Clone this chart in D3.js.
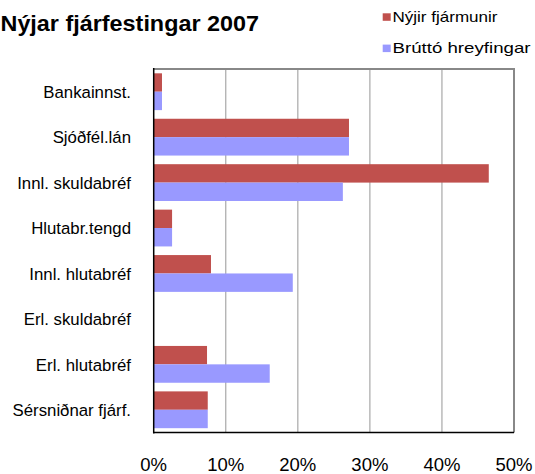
<!DOCTYPE html>
<html><head><meta charset="utf-8">
<script src="https://cdn.jsdelivr.net/npm/d3@7"></script>
<style>body{margin:0;background:#fff}svg{display:block;font-family:"Liberation Sans",Arial,sans-serif}</style>
</head><body>
<svg id="c" width="535" height="474"></svg>
<script>
const categories = ["Bankainnst.","Sjóðfél.lán","Innl. skuldabréf","Hlutabr.tengd","Innl. hlutabréf","Erl. skuldabréf","Erl. hlutabréf","Sérsniðnar fjárf."];
const seriesNames = ["Nýjir fjármunir","Brúttó hreyfingar"];
const nyjir = [1.15, 27.1, 46.5, 2.55, 7.95, 0, 7.4, 7.5];
const brutto = [1.15, 27.1, 26.25, 2.55, 19.3, 0, 16.1, 7.5];
const tickValues = [0, 10, 20, 30, 40, 50];
const colors = ["#C0504D", "#9999FF"];

const svg = d3.select("#c");
const L = 153.7, R = 514, T = 69, B = 432.5;
const x = d3.scaleLinear().domain([0, 50]).range([L, R]);
const y = d3.scaleBand().domain(categories).range([T, B]).paddingInner(0.19).paddingOuter(0.095);
const ys = d3.scaleBand().domain([0, 1]).range([0, y.bandwidth()]);

// gridlines
svg.append("g").selectAll("line").data(tickValues.slice(1, -1)).join("line")
  .attr("x1", d => x(d)).attr("x2", d => x(d)).attr("y1", T).attr("y2", B)
  .attr("stroke", "#a8a8a8").attr("stroke-width", 1.2);

// plot frame top/right
svg.append("path").attr("d", `M${L},${T}H${R}V${B}`).attr("fill", "none").attr("stroke", "#888").attr("stroke-width", 2);

const data = categories.map((c, i) => ({c, v: [nyjir[i], brutto[i]]}));
const g = svg.append("g");
data.forEach(d => {
  d.v.forEach((v, s) => {
    if (v <= 0) return;
    g.append("rect").attr("x", x(0)).attr("y", y(d.c) + ys(s))
      .attr("width", x(v) - x(0)).attr("height", ys.bandwidth()).attr("fill", colors[s]);
  });
});

// axes
svg.append("line").attr("x1", L).attr("x2", L).attr("y1", T - 1).attr("y2", B + 1).attr("stroke", "#000").attr("stroke-width", 1.5);
svg.append("line").attr("x1", L).attr("x2", R).attr("y1", B).attr("y2", B).attr("stroke", "#000").attr("stroke-width", 1.5);

// category labels
svg.append("g").selectAll("text").data(categories).join("text")
  .attr("x", 131).attr("y", d => y(d) + y.bandwidth() / 2 + 6.3)
  .attr("text-anchor", "end").attr("font-size", 16.8).attr("fill", "#000").text(d => d);

// x tick labels
svg.append("g").selectAll("text").data(tickValues).join("text")
  .attr("x", d => x(d)).attr("y", 471).attr("text-anchor", "middle")
  .attr("font-size", 18.5).attr("fill", "#000").text(d => d + "%");

// title
svg.append("text").attr("x", 0.5).attr("y", 31)
  .attr("font-size", 21.5).attr("font-weight", "bold")
  .attr("textLength", 258.5).attr("lengthAdjust", "spacingAndGlyphs")
  .text("Nýjar fjárfestingar 2007");

// legend
const legW = [105, 138];
const leg = svg.append("g");
seriesNames.forEach((n, i) => {
  const yy = 13.3 + i * 31.3;
  leg.append("rect").attr("x", 382.7).attr("y", yy).attr("width", 8).attr("height", 7.5).attr("fill", colors[i]);
  leg.append("text").attr("x", 392.5).attr("y", yy + 8.4).attr("font-size", 14.5)
    .attr("textLength", legW[i]).attr("lengthAdjust", "spacingAndGlyphs").text(n);
});
</script>
</body></html>
